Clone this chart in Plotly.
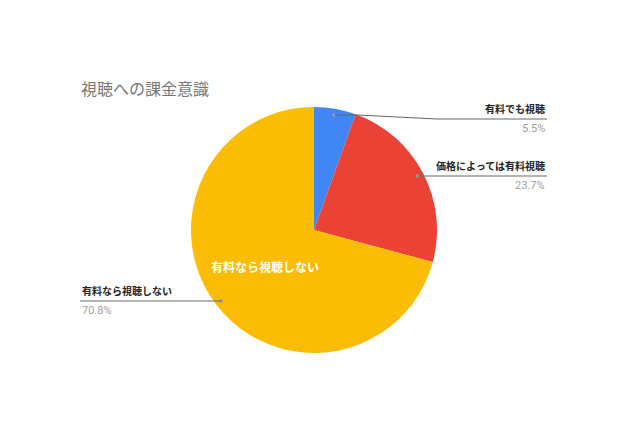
import math
import plotly.graph_objects as go

title = '視聴への課金意識'
labels = ['有料でも視聴', '価格によっては有料視聴', '有料なら視聴しない']
values = [5.5, 23.7, 70.8]
colors = ['#4285F4', '#EA4335', '#FBBC04']
inside_label = '有料なら視聴しない'

# page has an 8px body margin, so the figure is drawn inside it
OFF = 8
W, H = 640 - 2 * OFF, 426 - 2 * OFF
cx, cy, R = 314, 230, 123  # pie centre / radius in window px

def px(x):
    return (x - OFF) / W

def py(y):
    return 1 - (y - OFF) / H

# where the outside labels sit (window px): text edge, line y, side
label_pos = [(547, 119, 'right'), (547, 176, 'right'), (80, 301, 'left')]
label_font = 'Noto Sans CJK JP, Roboto, sans-serif'

fig = go.Figure(go.Pie(
    labels=labels, values=values, sort=False, direction='clockwise', rotation=0,
    marker=dict(colors=colors, line=dict(width=0)),
    textinfo='none', hoverinfo='label+percent', showlegend=False,
    domain=dict(x=[px(cx - R), px(cx + R)], y=[py(cy + R), py(cy - R)]),
))

total = sum(values)
shapes = []
annotations = []
start = 0
for lab, v, (lx, ly, side) in zip(labels, values, label_pos):
    mid = (start + v / 2) / total * 2 * math.pi
    start += v
    dx, dy = cx + 0.95 * R * math.sin(mid), cy - 0.95 * R * math.cos(mid)
    shapes.append(dict(type='circle', xref='paper', yref='paper',
                       x0=px(dx - 1.8), x1=px(dx + 1.8), y0=py(dy + 1.8), y1=py(dy - 1.8),
                       fillcolor='#9e9e9e', line=dict(width=0)))
    if side == 'right':
        if abs(dy - ly) > 2:
            path = f'M {px(dx)},{py(dy)} L {px(dx + 21)},{py(dy)} L {px(437)},{py(ly)} L {px(lx)},{py(ly)}'
        else:
            path = f'M {px(dx)},{py(ly)} L {px(lx)},{py(ly)}'
    else:
        path = f'M {px(lx)},{py(ly)} L {px(dx)},{py(ly)}'
    shapes.append(dict(type='path', xref='paper', yref='paper', path=path,
                       line=dict(color='#666666', width=1)))
    anchor = 'right' if side == 'right' else 'left'
    annotations.append(dict(x=px(lx), y=py(ly - 1), xref='paper', yref='paper',
                            text=f'<b>{lab}</b>', showarrow=False,
                            xanchor=anchor, yanchor='bottom',
                            font=dict(family=label_font, size=10, color='#222222')))
    annotations.append(dict(x=px(lx), y=py(ly + 1), xref='paper', yref='paper',
                            text=f'{v}%', showarrow=False,
                            xanchor=anchor, yanchor='top',
                            font=dict(family='Roboto, Arial, sans-serif', size=11, color='#9e9e9e')))

annotations.append(dict(x=px(265), y=py(266), xref='paper', yref='paper',
                        text=f'<b>{inside_label}</b>', showarrow=False,
                        font=dict(family=label_font, size=12, color='white')))
annotations.append(dict(x=px(79), y=py(88), xref='paper', yref='paper',
                        text=title, showarrow=False, xanchor='left', yanchor='middle',
                        font=dict(family=label_font, size=16, color='#757575')))

fig.update_layout(width=W, height=H, margin=dict(l=0, r=0, t=0, b=0),
                  paper_bgcolor='white', plot_bgcolor='white',
                  shapes=shapes, annotations=annotations)

fig.write_html('out.html')
